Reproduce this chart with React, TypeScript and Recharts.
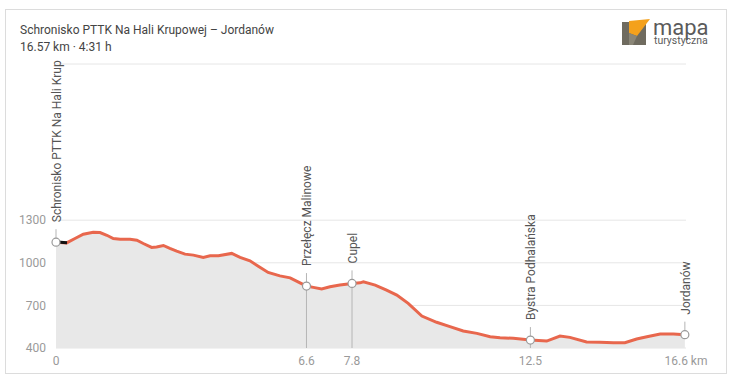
import { Area, CartesianGrid, ComposedChart, Line, ReferenceDot, ReferenceLine, XAxis, YAxis } from "recharts";

// elevation profile, km from start and metres a.s.l.
const distanceKm = [
  0, 0.28, 0.5, 0.72, 0.98, 1.16, 1.34, 1.51, 1.69, 1.95, 2.13, 2.3, 2.52, 2.65, 2.83, 3.0, 3.18, 3.4, 3.62,
  3.88, 4.06, 4.28, 4.63, 4.85, 5.11, 5.33, 5.59, 5.9, 6.17, 6.43, 6.6, 6.78, 7.0, 7.22, 7.48, 7.8, 8.01, 8.1,
  8.41, 8.71, 8.98, 9.28, 9.64, 10.03, 10.38, 10.73, 11.09, 11.44, 11.7, 12.05, 12.5, 12.93, 13.28, 13.54,
  13.98, 14.33, 14.69, 14.99, 15.3, 15.57, 15.92, 16.27, 16.57,
];
const elevationM = [
  1145, 1140, 1171, 1201, 1215, 1213, 1194, 1171, 1166, 1166, 1159, 1136, 1108, 1112, 1122, 1101, 1082, 1061,
  1054, 1038, 1049, 1049, 1066, 1038, 1014, 976, 932, 908, 894, 859, 836, 827, 815, 831, 843, 855, 859, 866,
  843, 808, 773, 714, 625, 581, 550, 520, 503, 479, 472, 468, 456, 449, 484, 475, 442, 440, 437, 437, 463,
  479, 498, 498, 494,
];

const currentKm = [0.03, 0.29];
const currentElev = [1146, 1141];

const waypointNames = ["Schronisko PTTK Na Hali Krupowej", "Przełęcz Malinowe", "Cupel", "Bystra Podhalańska", "Jordanów"];
const waypointKm = [0, 6.6, 7.8, 12.5, 16.57];
const waypointElev = [1145, 836, 855, 456, 494];

const xTicks = [0, 6.6, 7.8, 12.5, 16.6];
const yTicks = [400, 700, 1000, 1300];

const profile = distanceKm.map((d, i) => ({ km: d, elev: elevationM[i] }));
const current = currentKm.map((d, i) => ({ km: d, elev: currentElev[i] }));

const font = "Roboto, 'Open Sans', sans-serif";

function Waypoint(props: any) {
  const { cx, cy, name } = props;
  if (cx == null || cy == null) return null;
  return (
    <g>
      <line x1={cx} x2={cx} y1={cy - 13} y2={cy} stroke="#b5b5b5" strokeWidth={1} />
      <circle cx={cx} cy={cy} r={4} fill="#fff" stroke="#9a9a9a" strokeWidth={1.2} />
      <text
        x={cx + 5}
        y={cy - 20}
        transform={`rotate(-90 ${cx + 5} ${cy - 20})`}
        fontSize={12}
        fontFamily={font}
        fill="#555"
      >
        {name}
      </text>
    </g>
  );
}

function Logo() {
  return (
    <svg width={105} height={40} style={{ position: "absolute", left: 615, top: 12 }}>
      <rect x={7} y={10} width={24} height={23} fill="#6f6b5f" />
      <polygon points="14,9 35,7 22,24 14,21" fill="#f4a11c" />
      <polygon points="14,21 22,24 18,33 14,33" fill="#8a8677" />
      <text x={38} y={23} fontFamily={font} fontSize={22} fill="#5b5b5b">
        mapa
      </text>
      <text x={39} y={32} fontFamily={font} fontSize={10.5} fill="#5b5b5b">
        turystyczna
      </text>
    </svg>
  );
}

export default function App() {
  return (
    <div style={{ position: "absolute", left: 0, top: 0, width: 733, height: 385, background: "#fff" }}>
      <div
        style={{
          position: "absolute",
          left: 5,
          top: 9,
          width: 720,
          height: 363,
          border: "1px solid #dcdcdc",
          background: "#fff",
        }}
      />
      <div style={{ position: "absolute", left: 20, top: 22, fontFamily: font, fontSize: 12, color: "#444", lineHeight: "17px" }}>
        <div>Schronisko PTTK Na Hali Krupowej – Jordanów</div>
        <div>16.57 km · 4:31 h</div>
      </div>
      <Logo />
      <div style={{ position: "absolute", left: 0, top: 60, width: 733, height: 320, overflow: "hidden" }}>
        <ComposedChart width={733} height={320} data={profile} margin={{ top: 4, right: 47, bottom: 2, left: 6 }}>
          <CartesianGrid vertical={false} stroke="#e6e6e6" />
          <XAxis
            dataKey="km"
            type="number"
            domain={[0, 16.6]}
            ticks={xTicks}
            axisLine={false}
            tickLine={false}
            height={30}
            tick={{ fontSize: 12, fill: "#9a9a9a", fontFamily: font }}
            tickFormatter={(v) => (v === 16.6 ? "16.6 km" : `${v}`)}
          />
          <YAxis
            type="number"
            domain={[400, 2400]}
            ticks={yTicks}
            axisLine={false}
            tickLine={false}
            width={50}
            tickMargin={4}
            tick={{ fontSize: 12, fill: "#9a9a9a", fontFamily: font }}
          />
          <Area
            dataKey="elev"
            type="linear"
            fill="#e8e8e8"
            fillOpacity={1}
            stroke="#e8674d"
            strokeWidth={3}
            isAnimationActive={false}
            dot={false}
            activeDot={false}
          />
          <Line
            data={current}
            dataKey="elev"
            type="linear"
            stroke="#111"
            strokeWidth={3}
            dot={false}
            isAnimationActive={false}
          />
          {waypointKm.map((k, i) =>
            i > 0 && i < waypointKm.length - 1 ? (
              <ReferenceLine
                key={`l${i}`}
                segment={[
                  { x: k, y: 400 },
                  { x: k, y: waypointElev[i] },
                ]}
                stroke="#b5b5b5"
                strokeWidth={1}
              />
            ) : null
          )}
          {waypointKm.map((k, i) => (
            <ReferenceDot
              key={`d${i}`}
              x={k}
              y={waypointElev[i]}
              r={4}
              shape={(p: any) => <Waypoint {...p} name={waypointNames[i]} />}
            />
          ))}
        </ComposedChart>
      </div>
    </div>
  );
}
